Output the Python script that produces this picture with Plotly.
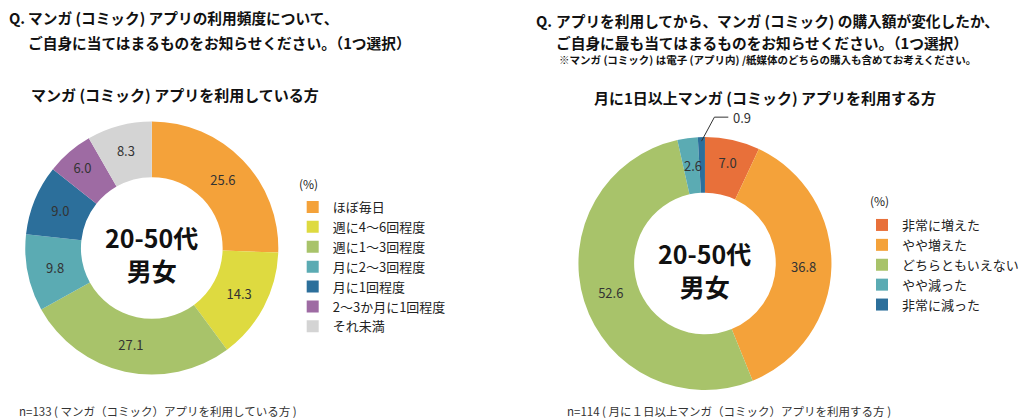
import math
import plotly.graph_objects as go

W, H = 1024, 420
FONT = "Noto Sans CJK JP"

# ---- data ----
left_labels = ["ほぼ毎日", "週に4～6回程度", "週に1～3回程度", "月に2～3回程度", "月に1回程度", "2～3か月に1回程度", "それ未満"]
left_values = [25.6, 14.3, 27.1, 9.8, 9.0, 6.0, 8.3]
left_colors = ["#F4A23A", "#DEDA40", "#A8C36A", "#5BABB3", "#2C6F9B", "#9E6BA3", "#D4D4D4"]

right_labels = ["非常に増えた", "やや増えた", "どちらともいえない", "やや減った", "非常に減った"]
right_values = [7.0, 36.8, 52.6, 2.6, 0.9]
right_colors = ["#E8703A", "#F4A23A", "#A8C36A", "#5BABB3", "#2C6F9B"]

left_title = ["マンガ (コミック) アプリの利用頻度について、", "ご自身に当てはまるものをお知らせください。（1つ選択）"]
left_sub = "マンガ (コミック) アプリを利用している方"
left_note = "n=133 ( マンガ（コミック）アプリを利用している方 )"
right_title = ["アプリを利用してから、マンガ (コミック) の購入額が変化したか、", "ご自身に最も当てはまるものをお知らせください。（1つ選択）"]
right_small = "※マンガ (コミック) は電子 (アプリ内) /紙媒体のどちらの購入も含めてお考えください。"
right_sub = "月に1日以上マンガ (コミック) アプリを利用する方"
right_note = "n=114 ( 月に１日以上マンガ（コミック）アプリを利用する方 )"
center_text = "20-50代<br>男女"
unit_text = "(%)"
q_mark = "Q."


def px(x):
    return x / W


def py(y):
    return 1 - y / H


# geometry (pixels)
L_C, L_R = (153, 248), 127.5
R_C, R_R = (710.5, 263.5), 127.5
HOLE = 0.56
SMALL = 3.0


def dom(c, r):
    return dict(x=[px(c[0] - r), px(c[0] + r)], y=[py(c[1] + r), py(c[1] - r)])


def texts(vals):
    return [f"{v:.1f}" if v >= SMALL else "" for v in vals]


fig = go.Figure()
fig.add_trace(go.Pie(
    labels=left_labels, values=left_values, hole=HOLE, sort=False, direction="clockwise",
    marker=dict(colors=left_colors, line=dict(width=0)),
    text=texts(left_values), textinfo="text", textposition="inside",
    insidetextorientation="horizontal", textfont=dict(family=FONT, size=13, color="#333333"),
    domain=dom(L_C, L_R), legend="legend", hoverinfo="label+value",
))
fig.add_trace(go.Pie(
    labels=right_labels, values=right_values, hole=HOLE, sort=False, direction="clockwise",
    marker=dict(colors=right_colors, line=dict(width=0)),
    text=texts(right_values), textinfo="text", textposition="inside",
    insidetextorientation="horizontal", textfont=dict(family=FONT, size=13, color="#333333"),
    domain=dom(R_C, R_R), legend="legend2", hoverinfo="label+value",
))

ann = []
shapes = []


def text_ann(x, y, s, size, bold=False, color="#111111", xanchor="left"):
    ann.append(dict(x=px(x), y=py(y), xref="paper", yref="paper", text=f"<b>{s}</b>" if bold else s,
                    showarrow=False, xanchor=xanchor, yanchor="middle",
                    font=dict(family=FONT, size=size, color=color)))


# titles
TS = 14.7
text_ann(7, 18, q_mark, TS, True)
text_ann(26, 18, left_title[0], TS, True)
text_ann(26, 43, left_title[1], TS, True)
text_ann(29, 95, left_sub, 15, True)
text_ann(538, 20, q_mark, TS, True)
text_ann(558, 20, right_title[0], TS, True)
text_ann(558, 43, right_title[1], TS, True)
text_ann(561, 60, right_small, 10.5, True)
text_ann(597, 97, right_sub, 15, True)
text_ann(17, 411, left_note, 11.5, False, "#333333")
text_ann(569, 411, right_note, 11.5, False, "#333333")
text_ann(299, 183, unit_text, 12, False, "#222222")
text_ann(875, 200, unit_text, 12, False, "#222222")

# center texts
for c in (L_C, R_C):
    ann.append(dict(x=px(c[0]), y=py(c[1] + 6), xref="paper", yref="paper", text=f"<b>{center_text}</b>",
                    showarrow=False, xanchor="center", yanchor="middle",
                    font=dict(family=FONT, size=25, color="#111111")))


# small slice labels from data angles
def small_labels(c, r, vals):
    tot = sum(vals)
    cum = 0
    mid_r = r * (1 + HOLE) / 2
    for i, v in enumerate(vals):
        mid = (cum + v / 2) / tot * 2 * math.pi
        cum += v
        if v >= SMALL:
            continue
        if v >= 2:
            x = c[0] + mid_r * math.sin(mid) + 2
            y = c[1] - mid_r * math.cos(mid)
            text_ann(x, y, f"{v:.1f}", 13, False, "#333333", "center")
        else:
            x0 = c[0] + r * 0.96 * math.sin(mid)
            y0 = c[1] - r * 0.96 * math.cos(mid)
            x1, y1 = x0 + 13, y0 - 24
            x2 = x1 + 14
            shapes.append(dict(type="path", xref="paper", yref="paper",
                               path=f"M {px(x0)} {py(y0)} L {px(x1)} {py(y1)} L {px(x2)} {py(y1)}",
                               line=dict(color="#333333", width=1)))
            text_ann(x2 + 3, y1, f"{v:.1f}", 13, False, "#333333")


small_labels(R_C, R_R, right_values)

leg_common = dict(font=dict(family=FONT, size=13, color="#222222"), bgcolor="rgba(0,0,0,0)",
                  xanchor="left", yanchor="top", itemclick=False, itemdoubleclick=False)

fig.update_layout(
    width=W, height=H, margin=dict(l=0, r=0, t=0, b=0),
    paper_bgcolor="white", plot_bgcolor="white",
    showlegend=True,
    legend=dict(x=px(295), y=py(192), **leg_common),
    legend2=dict(x=px(869), y=py(210), **leg_common),
    annotations=ann, shapes=shapes,
)

fig.write_html("out.html", config={"displayModeBar": False},
               post_script="document.body.style.margin='0px';document.body.style.overflow='hidden';")
